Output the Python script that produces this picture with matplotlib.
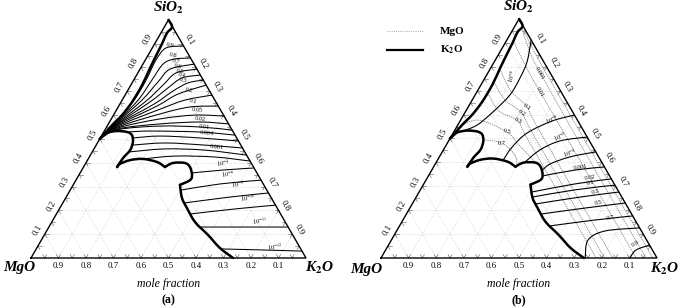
import numpy as np
import matplotlib
matplotlib.use('Agg')
import matplotlib.pyplot as plt
from matplotlib.path import Path
from matplotlib.patches import PathPatch

plt.rcParams['font.family'] = 'serif'
plt.rcParams['font.serif'] = ['Liberation Serif', 'DejaVu Serif']
plt.rcParams['mathtext.fontset'] = 'stix'

# all compositions are mole fractions (K2O, SiO2); MgO = 1 - K2O - SiO2

# phase boundary (thick line), split at its corners
BND_UPPER_K = [0.0, 0.028, 0.022, 0.026, 0.029, 0.034, 0.041, 0.040, 0.031, 0.016, 0.0]
BND_UPPER_S = [1.0, 0.970, 0.945, 0.907, 0.865, 0.798, 0.726, 0.655, 0.600, 0.558, 0.50]
BND_LOBE_K = [0.0, 0.014, 0.046, 0.085, 0.109, 0.127, 0.134, 0.125, 0.122]
BND_LOBE_S = [0.50, 0.525, 0.533, 0.529, 0.516, 0.487, 0.453, 0.420, 0.382]
BND_MID_K = [0.122, 0.126, 0.155, 0.199, 0.257, 0.296]
BND_MID_S = [0.382, 0.395, 0.411, 0.416, 0.403, 0.382]
BND_BUMP_K = [0.296, 0.317, 0.360, 0.387, 0.411, 0.415, 0.388]
BND_BUMP_S = [0.382, 0.399, 0.399, 0.382, 0.349, 0.327, 0.307]
BND_LOW_K = [0.388, 0.423, 0.462, 0.521, 0.595, 0.666, 0.735]
BND_LOW_S = [0.307, 0.252, 0.210, 0.151, 0.097, 0.042, 0.0]

# (a) SiO2 iso-activity lines
A_ISO_K = [
    [0, 0.026, 0.043, 0.045, 0.039, 0.050, 0.110],
    [0, 0.028, 0.058, 0.066, 0.073, 0.102, 0.160],
    [0, 0.030, 0.072, 0.092, 0.109, 0.186],
    [0, 0.032, 0.089, 0.117, 0.139, 0.207],
    [0, 0.034, 0.105, 0.141, 0.171, 0.232],
    [0, 0.035, 0.124, 0.166, 0.203, 0.253],
    [0, 0.037, 0.139, 0.190, 0.274],
    [0, 0.039, 0.157, 0.228, 0.316],
    [0, 0.041, 0.167, 0.261, 0.362],
    [0, 0.043, 0.177, 0.296, 0.404],
    [0, 0.045, 0.188, 0.329, 0.437],
    [0, 0.047, 0.192, 0.340, 0.463],
    [0.085, 0.166, 0.350, 0.484],
    [0.118, 0.213, 0.363, 0.509],
    [0.130, 0.246, 0.396, 0.538],
    [0.132, 0.258, 0.406, 0.568],
    [0.199, 0.310, 0.457, 0.593],
    [0.406, 0.510, 0.622],
    [0.402, 0.532, 0.673],
    [0.442, 0.596, 0.727],
    [0.487, 0.639, 0.778],
    [0.550, 0.713, 0.870],
    [0.672, 0.816, 0.971],
]
A_ISO_S = [
    [0.50, 0.581, 0.663, 0.747, 0.831, 0.882, 0.890],
    [0.50, 0.577, 0.663, 0.747, 0.814, 0.835, 0.840],
    [0.50, 0.573, 0.663, 0.739, 0.793, 0.814],
    [0.50, 0.569, 0.659, 0.726, 0.777, 0.793],
    [0.50, 0.565, 0.655, 0.714, 0.756, 0.768],
    [0.50, 0.562, 0.646, 0.701, 0.735, 0.747],
    [0.50, 0.558, 0.638, 0.688, 0.726],
    [0.50, 0.554, 0.625, 0.663, 0.684],
    [0.50, 0.550, 0.605, 0.634, 0.638],
    [0.50, 0.546, 0.584, 0.600, 0.596],
    [0.50, 0.542, 0.563, 0.571, 0.563],
    [0.50, 0.539, 0.554, 0.550, 0.537],
    [0.529, 0.533, 0.529, 0.516],
    [0.504, 0.512, 0.504, 0.491],
    [0.474, 0.483, 0.474, 0.462],
    [0.445, 0.458, 0.453, 0.432],
    [0.416, 0.428, 0.424, 0.407],
    [0.357, 0.369, 0.378],
    [0.285, 0.311, 0.327],
    [0.231, 0.256, 0.273],
    [0.185, 0.206, 0.222],
    [0.130, 0.130, 0.130],
    [0.038, 0.034, 0.029],
]
A_LABELS = ['0.9', '0.8', '0.7', '0.6', '0.5', '0.4', '0.3', '0.2', '0.1', '0.05',
            '0.02', '0.01', '0.004', '0.001', '$10^{-4}$', '$10^{-6}$', '$10^{-8}$',
            '$10^{-10}$', '$10^{-11}$', '$10^{-12}$']
A_LABEL_K = [0.058, 0.090, 0.114, 0.132, 0.149, 0.165, 0.179, 0.222, 0.260, 0.293,
             0.323, 0.354, 0.377, 0.443, 0.499, 0.540, 0.597, 0.663, 0.755, 0.864]
A_LABEL_S = [0.894, 0.853, 0.827, 0.806, 0.785, 0.768, 0.747, 0.705, 0.659, 0.621,
             0.584, 0.550, 0.525, 0.466, 0.399, 0.353, 0.311, 0.252, 0.155, 0.046]

# (b) K2O iso-activity lines (solid)
B_K2O_K = [
    [0.088, 0.119, 0.127, 0.126, 0.100, 0.070, 0.030],
    [0.402, 0.333, 0.268, 0.243, 0.238],
    [0.494, 0.404, 0.350, 0.320],
    [0.556, 0.473, 0.416, 0.400],
    [0.412, 0.519, 0.619],
    [0.408, 0.548, 0.669],
    [0.421, 0.560, 0.695],
    [0.447, 0.594, 0.724],
    [0.488, 0.635, 0.770],
    [0.544, 0.696, 0.824],
    [0.740, 0.7125, 0.755, 0.874],
    [0.902, 0.907, 0.946],
]
B_K2O_S = [
    [0.912, 0.820, 0.753, 0.682, 0.611, 0.556, 0.531],
    [0.598, 0.573, 0.523, 0.464, 0.408],
    [0.506, 0.490, 0.452, 0.399],
    [0.444, 0.423, 0.393, 0.364],
    [0.343, 0.368, 0.381],
    [0.276, 0.310, 0.331],
    [0.255, 0.285, 0.305],
    [0.226, 0.255, 0.276],
    [0.184, 0.209, 0.230],
    [0.134, 0.159, 0.176],
    [0.0, 0.075, 0.113, 0.126],
    [0.0, 0.033, 0.054],
]
B_K2O_LABELS = ['$10^{-8}$', '$10^{-6}$', '$10^{-5}$', '$10^{-4}$', '0.001', '0.02',
                '0.1', '0.3', '0.5', '0.7', '0.9']
B_K2O_LABEL_K = [0.094, 0.331, 0.396, 0.465, 0.531, 0.590, 0.600, 0.637, 0.671, 0.746, 0.891]
B_K2O_LABEL_S = [0.761, 0.577, 0.506, 0.439, 0.381, 0.335, 0.314, 0.276, 0.230, 0.167, 0.059]
B_K2O_LABEL_ROT = [75, 25, 25, 20, 10, 10, 10, 10, 10, 10, 30]

# (b) MgO iso-activity lines (dotted)
B_MGO_K = [
    [0.04, 0.20, 0.985],
    [0.03, 0.11, 0.189, 0.56, 0.96],
    [0.028, 0.13, 0.229, 0.60, 0.924],
    [0.036, 0.12, 0.213, 0.30, 0.84],
    [0.041, 0.12, 0.207, 0.29, 0.81],
    [0.042, 0.12, 0.210, 0.29, 0.78],
    [0.006, 0.063, 0.193, 0.26, 0.36],
    [0.124, 0.198, 0.27, 0.30],
]
B_MGO_S = [
    [0.955, 0.785, 0.0],
    [0.96, 0.86, 0.775, 0.40, 0.0],
    [0.905, 0.795, 0.695, 0.325, 0.0],
    [0.79, 0.70, 0.632, 0.54, 0.0],
    [0.736, 0.66, 0.607, 0.52, 0.0],
    [0.690, 0.615, 0.573, 0.49, 0.0],
    [0.545, 0.577, 0.527, 0.475, 0.40],
    [0.494, 0.481, 0.43, 0.386],
]
B_MGO_LABELS = ['0.001', '0.01', '0.1', '0.2', '0.3', '0.5', '0.7']
B_MGO_LABEL_K = [0.189, 0.229, 0.213, 0.207, 0.210, 0.193, 0.198]
B_MGO_LABEL_S = [0.774, 0.695, 0.632, 0.607, 0.573, 0.527, 0.481]
B_MGO_LABEL_ROT = [-60, -60, -35, -35, -30, -15, 0]

AXIS_TICKS = [0.1, 0.2, 0.3, 0.4, 0.5, 0.6, 0.7, 0.8, 0.9]

H = np.sqrt(3) / 2
DOT = (0, (1, 1.6))


def tern(k, s):
    k = np.asarray(k, dtype=float)
    s = np.asarray(s, dtype=float)
    return k + s / 2, s * H


def curve(ax, k, s, **kw):
    # smooth curve through the read points (Catmull-Rom as cubic bezier)
    x, y = tern(k, s)
    pts = np.column_stack([x, y])
    n = len(pts)
    verts = [pts[0]]
    codes = [Path.MOVETO]
    for i in range(n - 1):
        p0 = pts[max(i - 1, 0)]
        p1, p2 = pts[i], pts[i + 1]
        p3 = pts[min(i + 2, n - 1)]
        verts += [p1 + (p2 - p0) / 6, p2 - (p3 - p1) / 6, p2]
        codes += [Path.CURVE4] * 3
    ax.add_patch(PathPatch(Path(verts, codes), fill=False, capstyle='round',
                           joinstyle='round', **kw))


def frame(ax, xlim, ylim, tag, mg_xy, k_xy):
    ax.set_xlim(*xlim)
    ax.set_ylim(*ylim)
    ax.axis('off')
    # light grid
    for v in AXIS_TICKS:
        for kk, ss in (([0, 1 - v], [v, v]), ([v, v], [0, 1 - v]), ([1 - v, 0], [0, 1 - v])):
            x, y = tern(kk, ss)
            ax.plot(x, y, color='#dadada', lw=0.45, ls=(0, (3, 2)), zorder=1)
    # small ticks along the edges
    t = 0.014
    for v in np.arange(1, 20) / 20:
        xb, yb = v, 0
        xl, yl = v / 2, v * H
        xr, yr = 1 - v / 2, v * H
        segs = [((xb, xb + t / 2), (yb, yb + t * H)), ((xb, xb - t / 2), (yb, yb + t * H)),
                ((xl, xl + t), (yl, yl)), ((xl, xl + t / 2), (yl, yl - t * H)),
                ((xr, xr - t), (yr, yr)), ((xr, xr - t / 2), (yr, yr - t * H))]
        for sx, sy in segs:
            ax.plot(sx, sy, color='#666666', lw=0.45, zorder=2)
    ax.plot([0, 1, 0.5, 0], [0, 0, H, 0], color='k', lw=1.0, zorder=5,
            solid_joinstyle='miter')
    d = 0.03
    for v in AXIS_TICKS:
        ax.text(1 - v, -0.03, f'{v:.1f}', ha='center', va='center', fontsize=6.3)
        ax.text(v / 2 - d * H, v * H + d / 2, f'{v:.1f}', ha='center', va='center',
                fontsize=6.3, rotation=60)
        ax.text((1 + v) / 2 + d * H, (1 - v) * H + d / 2, f'{v:.1f}', ha='center',
                va='center', fontsize=6.3, rotation=-60)
    bi = dict(fontsize=11, fontweight='bold', fontstyle='italic', ha='center', va='center')
    ax.text(0.5, 0.909, 'SiO$_\\mathbf{2}$', **bi)
    ax.text(mg_xy[0], mg_xy[1], 'MgO', **bi)
    ax.text(k_xy[0], k_xy[1], 'K$_\\mathbf{2}$O', **bi)
    ax.text(0.5, -0.095, 'mole fraction', fontsize=8.5, fontstyle='italic',
            ha='center', va='center')
    ax.text(0.5, -0.153, tag, fontsize=8.5, fontweight='bold', ha='center', va='center')


def boundary(ax):
    for k, s in ((BND_UPPER_K, BND_UPPER_S), (BND_LOBE_K, BND_LOBE_S),
                 (BND_MID_K, BND_MID_S), (BND_BUMP_K, BND_BUMP_S),
                 (BND_LOW_K, BND_LOW_S)):
        curve(ax, k, s, lw=1.8, edgecolor='k', zorder=6)


fig = plt.figure(figsize=(6.85, 3.07), dpi=100)

# ---------------- panel (a) ----------------
ax = fig.add_axes([0, 0, 340 / 685, 1])
frame(ax, (-31 / 275, 309 / 275), (-49 / 275, 258 / 275), '(a)',
      (-0.044, -0.036), (1.051, -0.036))
for k, s in zip(A_ISO_K, A_ISO_S):
    curve(ax, k, s, lw=0.75, edgecolor='k', zorder=4)
boundary(ax)
for i, (txt, k, s) in enumerate(zip(A_LABELS, A_LABEL_K, A_LABEL_S)):
    x, y = tern(k, s)
    rot = -12 if i < 9 else (-5 if i < 14 else 8)
    ax.text(x, y, txt, fontsize=4.5, ha='center', va='center', rotation=rot, zorder=7)

# ---------------- panel (b) ----------------
ax = fig.add_axes([345 / 685, 0, 340 / 685, 1])
frame(ax, (-36 / 276, 304 / 276), (-49 / 276, 258 / 276), '(b)',
      (-0.054, -0.040), (1.029, -0.040))
for k, s in zip(B_MGO_K, B_MGO_S):
    curve(ax, k, s, lw=0.6, edgecolor='#8a8a8a', linestyle=DOT, zorder=3)
for k, s in zip(B_K2O_K, B_K2O_S):
    curve(ax, k, s, lw=0.8, edgecolor='k', zorder=4)
boundary(ax)
for txt, k, s, r in zip(B_MGO_LABELS, B_MGO_LABEL_K, B_MGO_LABEL_S, B_MGO_LABEL_ROT):
    x, y = tern(k, s)
    ax.text(x, y, txt, fontsize=4.5, ha='center', va='center', rotation=r, zorder=7)
for txt, k, s, r in zip(B_K2O_LABELS, B_K2O_LABEL_K, B_K2O_LABEL_S, B_K2O_LABEL_ROT):
    x, y = tern(k, s)
    ax.text(x, y, txt, fontsize=4.5, ha='center', va='center', rotation=r, zorder=7)

# legend
ax.plot([0.022, 0.152], [0.822, 0.822], color='#8a8a8a', lw=0.6, ls=DOT)
ax.plot([0.022, 0.152], [0.754, 0.754], color='k', lw=1.6)
ax.text(0.214, 0.822, 'MgO', fontsize=8, fontweight='bold', ha='left', va='center')
ax.text(0.214, 0.754, 'K$_\\mathbf{2}$O', fontsize=8, fontweight='bold', ha='left',
        va='center')

fig.savefig('out.png', dpi=100, facecolor='white')
